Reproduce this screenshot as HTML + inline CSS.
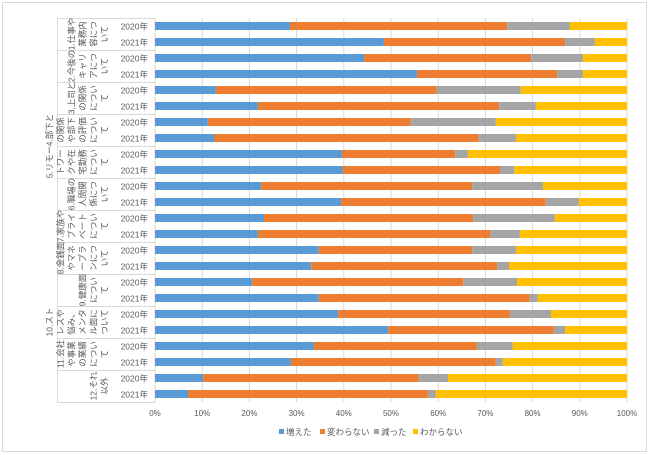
<!DOCTYPE html>
<html><head><meta charset="utf-8">
<style>
body{margin:0;background:#fff;font-family:"Liberation Sans","Noto Sans CJK JP",sans-serif;}
#wrap{position:relative;width:650px;height:455px;overflow:hidden;}
.lbl{position:absolute;width:33px;height:52px;font-size:8.5px;line-height:11px;color:#595959;transform:rotate(-90deg);display:flex;align-items:flex-end;justify-content:center;text-align:center;word-break:break-all;}
</style></head><body>
<div id="wrap">
<svg id="svg" width="650" height="455" style="position:absolute;left:0;top:0"></svg>
</div>
<script>
const categories=["1.仕事や業務内容について","2.今後のキャリアについて","3.上司との関係について","4.部下との関係や部下の評価について","5.リモートワークや在宅勤務について","6.職場の人間関係について","7.家族やプライベートについて","8.金銭面やマネープランについて","9.健康面について","10.ストレスや悩み、メンタル面について","11.会社や事業の業績について","12.それ以外"];
const years=["2020年","2021年"];
const seriesNames=["増えた","変わらない","減った","わからない"];
const increased=[28.6,48.5,44.3,55.5,12.9,21.8,11.2,12.5,39.6,39.8,22.5,39.4,23.1,21.8,34.7,33.1,20.6,34.7,38.8,49.4,33.7,28.8,10.2,7.0];
const unchanged=[46.0,38.4,35.4,29.7,46.8,51.1,43.0,56.1,24.0,33.3,44.7,43.4,44.3,49.2,32.5,39.4,44.7,44.7,36.4,35.1,34.5,43.4,45.7,50.8];
const decreased=[13.3,6.3,11.0,5.5,17.8,7.8,18.0,7.9,2.7,3.0,15.0,7.0,17.3,6.3,9.3,2.5,11.4,1.7,8.7,2.4,7.6,1.5,6.2,1.7];
const tickLabels=["0%","10%","20%","30%","40%","50%","60%","70%","80%","90%","100%"];
const colors=["#5b9bd5","#ed7d31","#a5a5a5","#ffc000"];
const NS="http://www.w3.org/2000/svg";
const svg=document.getElementById('svg');
const wrap=document.getElementById('wrap');
const X0=155,X1=627,Y0=18,ROW=16;
const xs=v=>X0+(X1-X0)*v/100;
const ys=i=>Y0+i*ROW;
function mk(t,a){const e=document.createElementNS(NS,t);for(const k in a)e.setAttribute(k,a[k]);svg.appendChild(e);return e;}
let r=mk('rect',{x:2.5,y:2.5,width:644,height:449,fill:'none',stroke:'#d9d9d9'});


tickLabels.forEach((t,i)=>{
  const x=xs(i*10);
  const g=mk('line',{x1:x,x2:x,y1:Y0,y2:Y0+24*ROW,stroke:'#d9d9d9','stroke-width':1});
  
  
  const tx=mk('text',{x:x,y:416,'font-size':8,fill:'#595959','text-anchor':'middle'});
  tx.textContent=t;
  
  
});
let vl=mk('line',{x1:57.5,x2:57.5,y1:Y0,y2:Y0+24*ROW,stroke:'#d9d9d9'});


for(let g=0;g<=12;g++){
  const y=Y0+g*2*ROW+0.5;
  const l=mk('line',{x1:57,x2:X0,y1:y,y2:y,stroke:'#d9d9d9'});
  
  
}
for(let i=0;i<24;i++){
  const vals=[increased[i],unchanged[i],decreased[i]];
  vals.push(100-vals[0]-vals[1]-vals[2]);
  let acc=0;
  vals.forEach((v,s)=>{
    const b=mk('rect',{x:xs(acc),y:ys(i)+4,width:xs(acc+v)-xs(acc),height:8,fill:colors[s]});
    
    
    acc+=v;
  });
  const yt=mk('text',{x:148,y:ys(i)+11.5,'font-size':8.5,fill:'#595959','text-anchor':'end'});
  yt.textContent=years[i%2];
  
  
}
categories.forEach((c,g)=>{
  const d=document.createElement('div');
  d.className='lbl';
  const cy=Y0+g*2*ROW+ROW;
  d.style.left=(84-16.5)+'px';
  d.style.top=(cy-26)+'px';
  d.textContent=c;
  
  
  wrap.appendChild(d);
});
const legX=[279,320,374,413];
seriesNames.forEach((n,s)=>{
  const sq=mk('rect',{x:legX[s],y:429,width:5,height:5,fill:colors[s]});
  
  
  const t=mk('text',{x:legX[s]+7,y:435,'font-size':8.5,fill:'#595959'});
  t.textContent=n;
  
  
});
</script>
</body></html>
